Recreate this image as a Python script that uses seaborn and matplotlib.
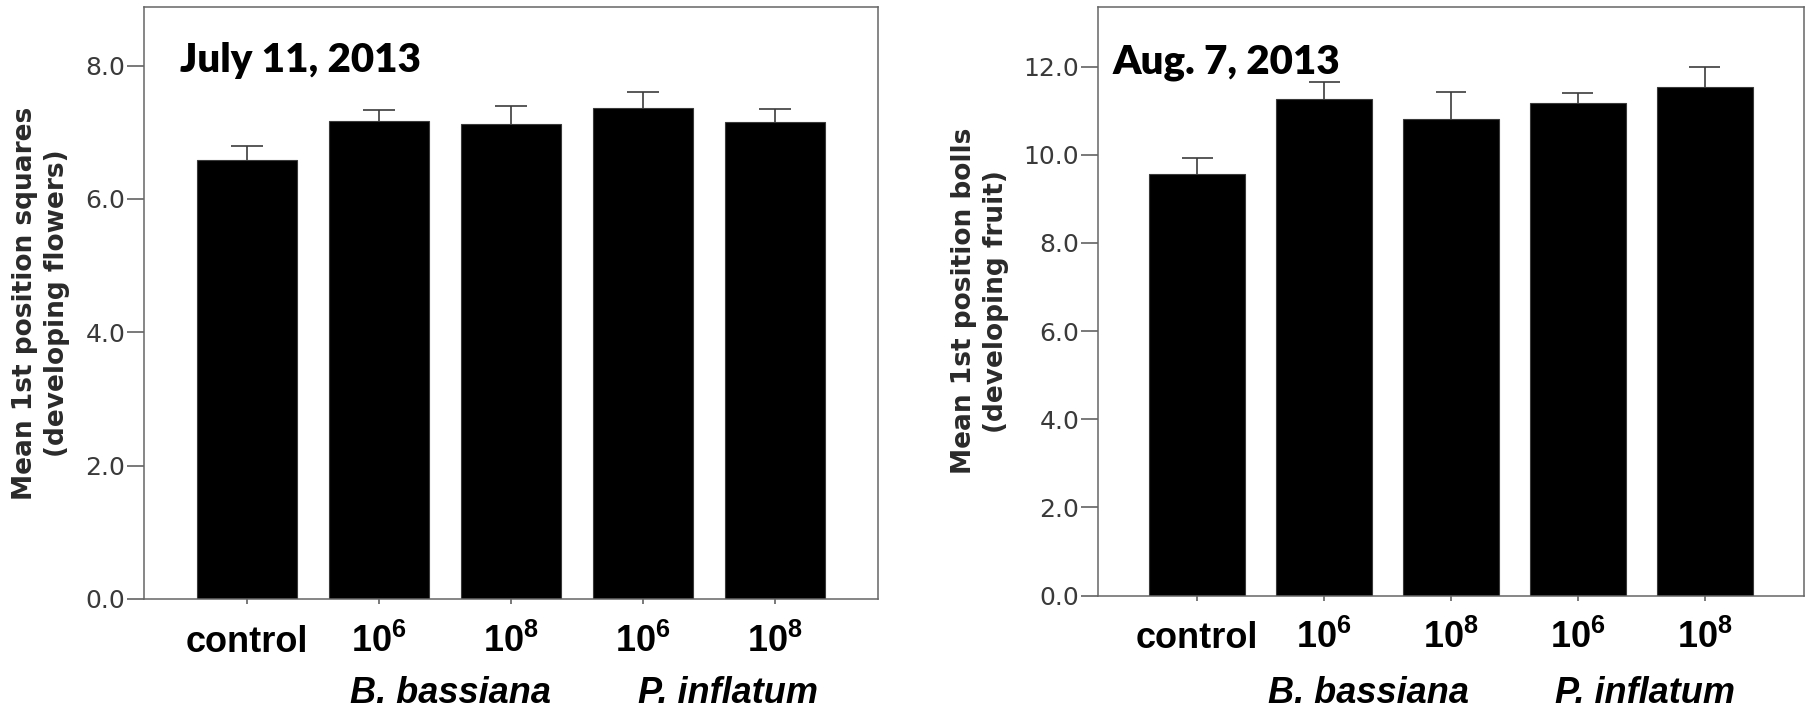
import matplotlib
matplotlib.use("Agg")
import matplotlib.pyplot as plt
import matplotlib.transforms as mtransforms
import seaborn as sns
import pandas as pd
import numpy as np

# ---------------- data ----------------
treatments = ["control", "Bb 1e6", "Bb 1e8", "Pi 1e6", "Pi 1e8"]
tick_labels = ["control", "10$^{6}$", "10$^{8}$", "10$^{6}$", "10$^{8}$"]
group_labels = ["B. bassiana", "P. inflatum"]

july_means = [6.58, 7.17, 7.13, 7.37, 7.16]
july_errs = [0.22, 0.16, 0.27, 0.23, 0.19]

aug_means = [9.56, 11.26, 10.81, 11.17, 11.54]
aug_errs = [0.36, 0.39, 0.62, 0.22, 0.44]

july_title = "July 11, 2013"
aug_title = "Aug. 7, 2013"
july_ylabel = "Mean 1st position squares\n(developing flowers)"
aug_ylabel = "Mean 1st position bolls\n(developing fruit)"
july_yticks = [0, 2, 4, 6, 8]
aug_yticks = [0, 2, 4, 6, 8, 10, 12]

# ---------------- style ----------------
sns.set_theme(style="white")
plt.rcParams["font.family"] = ["DejaVu Sans"]
plt.rcParams["mathtext.fontset"] = "custom"
plt.rcParams["mathtext.rm"] = "Liberation Sans:bold"
plt.rcParams["mathtext.bf"] = "Liberation Sans:bold"
plt.rcParams["mathtext.it"] = "Liberation Sans:bold:italic"

fig = plt.figure(figsize=(18.06, 7.06), dpi=100)
W, H = 1806, 706


def ax_rect(x0, y0, x1, y1):
    return [x0 / W, (H - y1) / H, (x1 - x0) / W, (y1 - y0) / H]


ax1 = fig.add_axes(ax_rect(144, 7, 878, 599))
ax2 = fig.add_axes(ax_rect(1098, 7, 1804, 595.5))

panels = [
    dict(ax=ax1, means=july_means, errs=july_errs, ylim=8.88, yticks=july_yticks,
         title=july_title, tx=0.049, ty=0.891, ylabel=july_ylabel, lx=41.5,
         gpos=[1.54, 3.64], gy=-0.1757),
    dict(ax=ax2, means=aug_means, errs=aug_errs, ylim=13.35, yticks=aug_yticks,
         title=aug_title, tx=0.021, ty=0.887, ylabel=aug_ylabel, lx=980,
         gpos=[1.35, 3.53], gy=-0.1825),
]

cap_half = 0.122

for p in panels:
    ax = p["ax"]
    df = pd.DataFrame({"treatment": treatments, "mean": p["means"], "err": p["errs"]})
    sns.barplot(data=df, x="treatment", y="mean", order=treatments, color="black",
                saturation=1, width=0.76, errorbar=None, edgecolor="#3a3a3a",
                linewidth=0.8, ax=ax, zorder=2)
    xs = np.arange(len(treatments))
    tops = df["mean"].to_numpy() + df["err"].to_numpy()
    # upper error bars only (the lower half is hidden inside the bars)
    ax.vlines(xs, df["mean"], tops, colors="#3c3c3c", linewidth=1.2, zorder=1)
    ax.hlines(tops, xs - cap_half, xs + cap_half, colors="#3c3c3c",
              linewidth=1.2, zorder=1)
    ax.set_xlim(-0.78, 4.78)
    ax.set_ylim(0, p["ylim"])
    ax.set_yticks(p["yticks"], labels=[f"{v:.1f}" for v in p["yticks"]],
                  fontfamily="DejaVu Sans", fontsize=18, color="#3a3a3a")
    ax.set_xticks(range(len(treatments)), labels=tick_labels,
                  fontfamily="Liberation Sans", fontweight="bold", fontsize=26,
                  color="black")
    for t in ax.get_xticklabels():
        t.set_va("baseline")
    ax.tick_params(axis="y", direction="out", length=12, width=1.1,
                   color="#555555", pad=1.5, left=True)
    ax.tick_params(axis="x", direction="out", length=3.6, width=1.1,
                   color="#555555", pad=34.5, bottom=True)
    for s in ax.spines.values():
        s.set_color("#666666")
        s.set_linewidth(1.1)
        s.set_visible(True)
    ax.set_xlabel("")
    ax.set_ylabel(p["ylabel"], fontfamily="DejaVu Sans", fontweight="bold",
                  fontsize=19, color="#2a2a2a", linespacing=1.3, va="center",
                  ha="center", multialignment="center")
    bbox = ax.get_position()
    x0_px = bbox.x0 * W
    ax.yaxis.set_label_coords((p["lx"] - x0_px) / (bbox.width * W), 0.5)
    ax.text(p["tx"], p["ty"], p["title"], transform=ax.transAxes,
            fontfamily="Lato", fontweight="heavy", fontsize=29, color="black",
            ha="left", va="baseline")
    trans = mtransforms.blended_transform_factory(ax.transData, ax.transAxes)
    for gx, g in zip(p["gpos"], group_labels):
        ax.text(gx, p["gy"], g, transform=trans, fontfamily="Liberation Sans",
                fontweight="bold", fontstyle="italic", fontsize=26,
                color="black", ha="center", va="baseline", clip_on=False)

fig.savefig("out.png", dpi=100)
